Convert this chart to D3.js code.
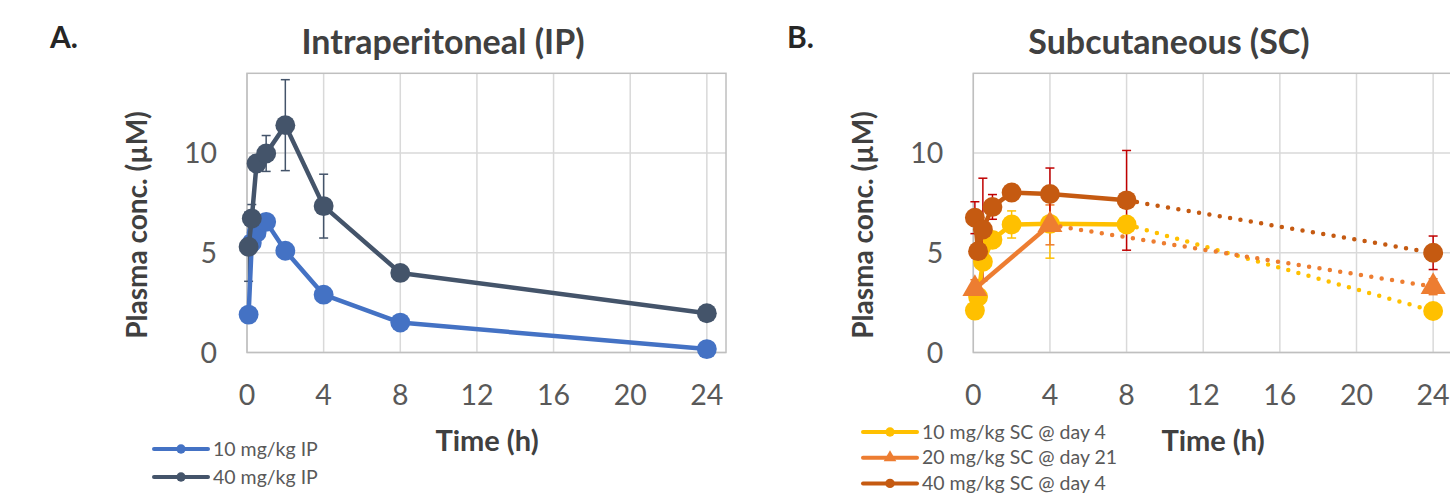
<!DOCTYPE html>
<html>
<head>
<meta charset="utf-8">
<script src="https://cdn.jsdelivr.net/npm/d3@7"></script>
<style>
  body { margin: 0; background: #fff; }
  text { font-family: Lato, "Open Sans", sans-serif; }
</style>
</head>
<body>
<div id="chart"></div>
<script>
(function () {

  // hours after dosing
  const timesIP = [0.083, 0.25, 0.5, 1, 2, 4, 8, 24]
  const ip10 = [1.9, 5.5, 6.0, 6.55, 5.1, 2.9, 1.5, 0.17]
  const ip10Err = [0.2, 0.2, 0.2, 0.2, 0.2, 0.2, 0.2, 0.1]
  const ip40 = [5.3, 6.72, 9.48, 9.98, 11.4, 7.34, 3.99, 1.97]
  const ip40Err = [1.73, 0.7, 0.4, 0.9, 2.28, 1.6, 0.3, 0.2]

  const timesSC = [0.083, 0.25, 0.5, 1, 2, 4, 8, 24]
  const timesSC20 = [0.083, 4, 24]
  const sc10 = [2.1, 2.8, 4.55, 5.65, 6.42, 6.45, 6.42, 2.08]
  const sc10Err = [0.3, 0.3, 0.4, 0.4, 0.68, 1.72, 0.3, 0.2]
  const sc20 = [3.2, 6.4, 3.3]
  const sc20Err = [0.45, 1.0, 0.4]
  const sc40 = [6.76, 5.08, 6.17, 7.3, 8.02, 7.95, 7.63, 5.0]
  const sc40Err = [0.8, 0.3, 2.57, 0.62, 0.3, 1.3, 2.5, 0.84]

  const xTicks = [0, 4, 8, 12, 16, 20, 24]
  const yTicks = [0, 5, 10]

  const width = 1450
  const height = 497

  const svg = d3.select("#chart").append("svg")
      .attr("width", width)
      .attr("height", height)

  const yPositionScale = d3.scaleLinear()
    .domain([0, 14])
    .range([352.5, 73.3])

  function series(times, values, errs, solidUntil) {
    return times.map((t, i) => ({ t: t, v: values[i], e: errs[i], solid: i <= solidUntil }))
  }

  function panel(opts) {
    const xPositionScale = d3.scaleLinear()
      .domain([0, 25])
      .range([opts.left, opts.left + 479])

    const g = svg.append("g")

    // gridlines
    g.selectAll(".vgrid")
      .data(xTicks)
      .join("line")
      .attr("x1", d => xPositionScale(d))
      .attr("x2", d => xPositionScale(d))
      .attr("y1", yPositionScale(0))
      .attr("y2", yPositionScale(14))
      .attr("stroke", "#d9d9d9")
      .attr("stroke-width", 1.5)

    g.selectAll(".hgrid")
      .data(yTicks)
      .join("line")
      .attr("x1", xPositionScale(0))
      .attr("x2", xPositionScale(25))
      .attr("y1", d => yPositionScale(d))
      .attr("y2", d => yPositionScale(d))
      .attr("stroke", "#d9d9d9")
      .attr("stroke-width", 1.5)

    g.append("rect")
      .attr("x", xPositionScale(0))
      .attr("y", yPositionScale(14))
      .attr("width", xPositionScale(25) - xPositionScale(0))
      .attr("height", yPositionScale(0) - yPositionScale(14))
      .attr("fill", "none")
      .attr("stroke", "#bfbfbf")
      .attr("stroke-width", 1.5)

    // tick labels
    g.selectAll(".xlab")
      .data(xTicks)
      .join("text")
      .attr("x", d => xPositionScale(d))
      .attr("y", 405)
      .attr("text-anchor", "middle")
      .attr("font-size", 28.5)
      .attr("fill", "#595959")
      .text(d => d)

    g.selectAll(".ylab")
      .data(yTicks)
      .join("text")
      .attr("x", opts.left - 30)
      .attr("y", d => yPositionScale(d) + 10)
      .attr("text-anchor", "end")
      .attr("font-size", 28.5)
      .attr("fill", "#595959")
      .text(d => d)

    // titles
    g.append("text")
      .attr("x", opts.titleX)
      .attr("y", 54)
      .attr("text-anchor", "middle")
      .attr("font-size", 34)
      .attr("font-weight", "bold")
      .attr("fill", "#404040")
      .text(opts.title)

    g.append("text")
      .attr("x", opts.letterX)
      .attr("y", 48)
      .attr("font-size", 30)
      .attr("font-weight", "bold")
      .attr("fill", "#262626")
      .text(opts.letter)

    g.append("text")
      .attr("x", opts.titleX + 44)
      .attr("y", 451)
      .attr("text-anchor", "middle")
      .attr("font-size", 29)
      .attr("font-weight", "bold")
      .attr("fill", "#404040")
      .text("Time (h)")

    g.append("text")
      .attr("transform", "translate(" + (opts.left - 100) + "," + 225 + ") rotate(-90)")
      .attr("text-anchor", "middle")
      .attr("font-size", 28)
      .attr("font-weight", "bold")
      .attr("fill", "#404040")
      .text("Plasma conc. (µM)")

    // error bars
    opts.data.forEach(s => {
      const eb = g.append("g")
      s.points.forEach(d => {
        const x = xPositionScale(d.t)
        const y1 = yPositionScale(d.v + d.e)
        const y2 = yPositionScale(d.v - d.e)
        eb.append("line").attr("x1", x).attr("x2", x).attr("y1", y1).attr("y2", y2)
          .attr("stroke", s.errColor).attr("stroke-width", 1.5)
        eb.append("line").attr("x1", x - 4.5).attr("x2", x + 4.5).attr("y1", y1).attr("y2", y1)
          .attr("stroke", s.errColor).attr("stroke-width", 1.5)
        eb.append("line").attr("x1", x - 4.5).attr("x2", x + 4.5).attr("y1", y2).attr("y2", y2)
          .attr("stroke", s.errColor).attr("stroke-width", 1.5)
      })
    })

    const line = d3.line()
      .x(d => xPositionScale(d.t))
      .y(d => yPositionScale(d.v))

    opts.data.forEach(s => {
      const solidPts = s.points.filter(d => d.solid)
      const lastSolid = solidPts.length - 1
      const dottedPts = s.points.slice(lastSolid)

      if (dottedPts.length > 1) {
        g.append("path")
          .datum(dottedPts)
          .attr("d", line)
          .attr("fill", "none")
          .attr("stroke", s.color)
          .attr("stroke-width", 4.5)
          .attr("stroke-linecap", "round")
          .style("stroke-dasharray", ("0,10.5"))
      }

      g.append("path")
        .datum(solidPts)
        .attr("d", line)
        .attr("fill", "none")
        .attr("stroke", s.color)
        .attr("stroke-width", 4.5)
        .attr("stroke-linejoin", "round")

      g.selectAll(null)
        .data(s.points)
        .join("path")
        .attr("transform", d => "translate(" + xPositionScale(d.t) + "," + yPositionScale(d.v) + ")")
        .attr("d", d3.symbol().type(s.shape).size(s.shape === d3.symbolTriangle ? 270 : 310))
        .attr("fill", s.color)
    })

    // legend
    const legend = g.append("g")
    opts.data.forEach((s, i) => {
      const y = opts.legendY + i * opts.legendStep
      legend.append("line")
        .attr("x1", opts.legendX)
        .attr("x2", opts.legendX + 54)
        .attr("y1", y)
        .attr("y2", y)
        .attr("stroke", s.color)
        .attr("stroke-width", 4)
        .attr("stroke-linecap", "round")
      legend.append("path")
        .attr("transform", "translate(" + (opts.legendX + 27) + "," + y + ")")
        .attr("d", d3.symbol().type(s.shape).size(70))
        .attr("fill", s.color)
      legend.append("text")
        .attr("x", opts.legendX + 59)
        .attr("y", y + 6.5)
        .attr("font-size", 19.5)
        .attr("fill", "#595959")
        .text(s.name)
    })
  }

  panel({
    left: 247,
    title: "Intraperitoneal (IP)",
    titleX: 443,
    letter: "A.",
    letterX: 50,
    legendX: 154,
    legendY: 449,
    legendStep: 28,
    data: [
      { name: "10 mg/kg IP", color: "#4472c4", errColor: "#4472c4", shape: d3.symbolCircle,
        points: series(timesIP, ip10, ip10Err, 99) },
      { name: "40 mg/kg IP", color: "#44546a", errColor: "#44546a", shape: d3.symbolCircle,
        points: series(timesIP, ip40, ip40Err, 99) }
    ]
  })

  panel({
    left: 973.3,
    title: "Subcutaneous (SC)",
    titleX: 1169,
    letter: "B.",
    letterX: 787,
    legendX: 863,
    legendY: 432,
    legendStep: 25.7,
    data: [
      { name: "10 mg/kg SC @ day 4", color: "#ffc000", errColor: "#ffc000", shape: d3.symbolCircle,
        points: series(timesSC, sc10, sc10Err, 6) },
      { name: "20 mg/kg SC @ day 21", color: "#ed7d31", errColor: "#ed7d31", shape: d3.symbolTriangle,
        points: series(timesSC20, sc20, sc20Err, 1) },
      { name: "40 mg/kg SC @ day 4", color: "#c55a11", errColor: "#c00000", shape: d3.symbolCircle,
        points: series(timesSC, sc40, sc40Err, 6) }
    ]
  })

})();
</script>
</body>
</html>
